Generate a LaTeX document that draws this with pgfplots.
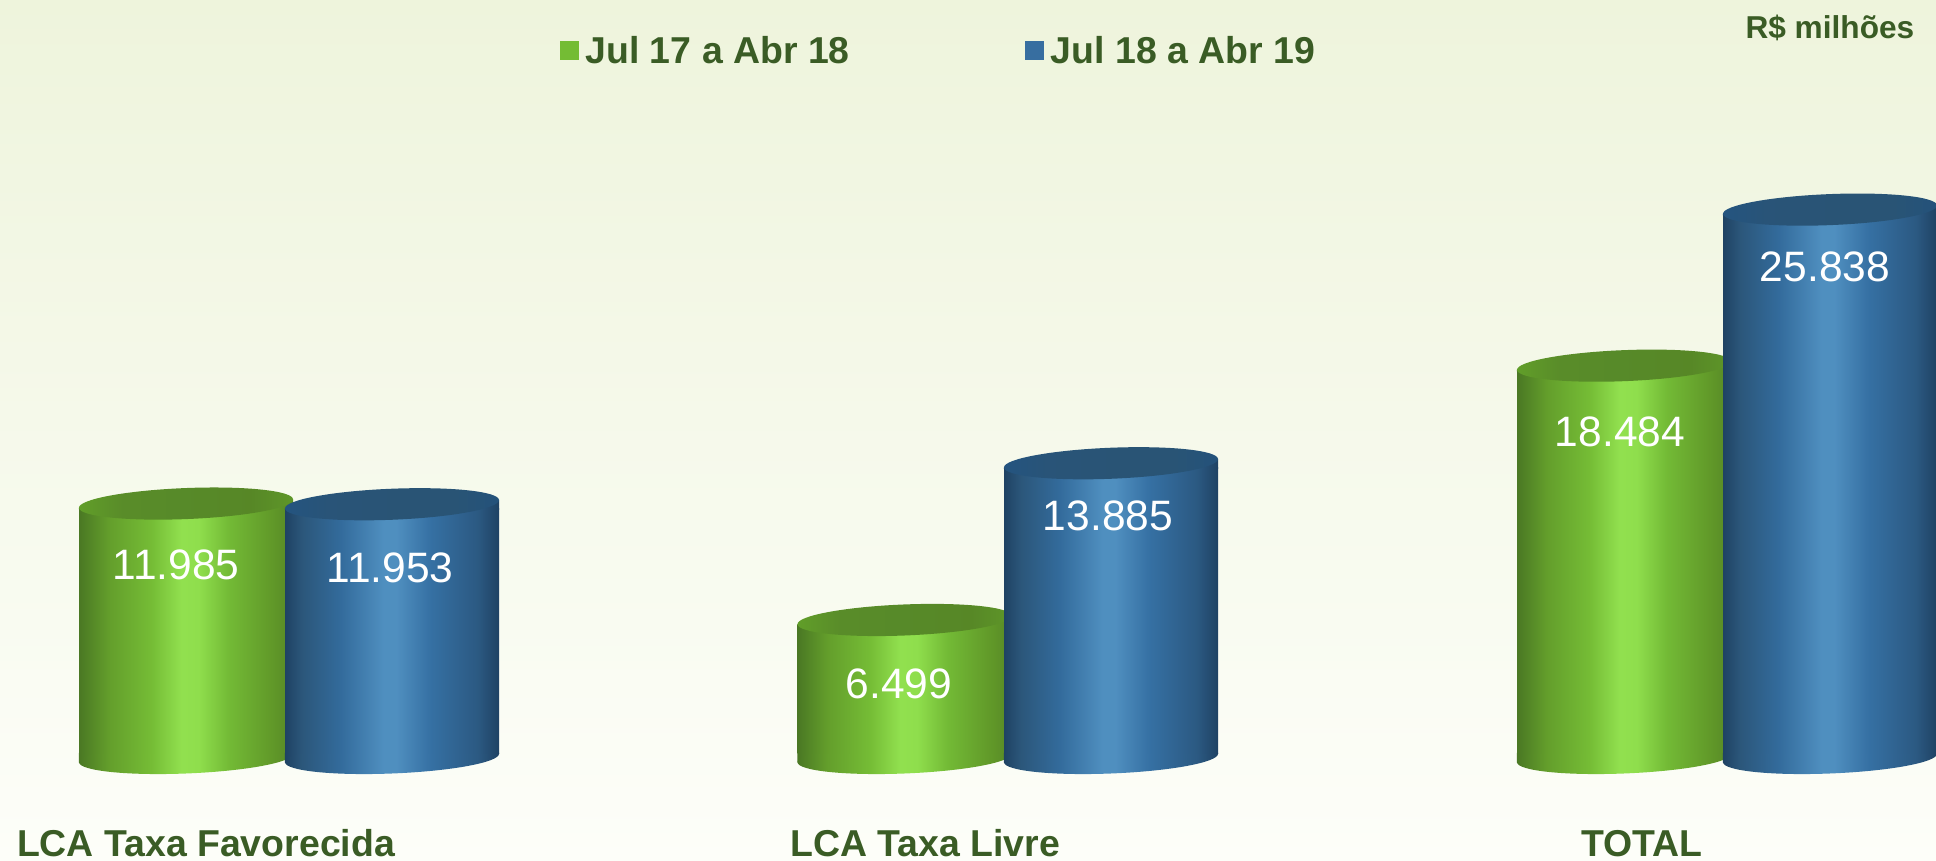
\documentclass[border=0pt]{standalone}
\usepackage{fontspec}
\setmainfont{Liberation Sans}
\usepackage{pgfplots}
\pgfplotsset{compat=1.18}
\usepackage{pgfplotstable}

\definecolor{txt}{HTML}{3A5C25}
\definecolor{bgtop}{HTML}{EEF4DC}
\definecolor{bgbot}{HTML}{FDFEF9}
\definecolor{legG}{HTML}{74BC34}
\definecolor{legB}{HTML}{376EA0}

% body and lid shadings, visible part is 25bp..75bp
\pgfdeclarehorizontalshading{bodyG}{100bp}{
 rgb(0bp)=(0.29,0.47,0.14); rgb(25bp)=(0.29,0.47,0.14); rgb(32bp)=(0.39,0.62,0.17);
 rgb(42bp)=(0.46,0.74,0.21); rgb(49bp)=(0.57,0.88,0.31); rgb(53bp)=(0.56,0.87,0.30);
 rgb(60bp)=(0.45,0.73,0.21); rgb(70bp)=(0.38,0.60,0.16); rgb(75bp)=(0.34,0.53,0.15); rgb(100bp)=(0.34,0.53,0.15)}
\pgfdeclarehorizontalshading{bodyB}{100bp}{
 rgb(0bp)=(0.12,0.26,0.39); rgb(25bp)=(0.12,0.26,0.39); rgb(29bp)=(0.17,0.34,0.48);
 rgb(38bp)=(0.20,0.42,0.61); rgb(48bp)=(0.31,0.56,0.75); rgb(51bp)=(0.31,0.56,0.75);
 rgb(59bp)=(0.21,0.44,0.64); rgb(70bp)=(0.17,0.35,0.51); rgb(75bp)=(0.12,0.26,0.39); rgb(100bp)=(0.12,0.26,0.39)}
\pgfdeclarehorizontalshading{lidG}{100bp}{
 rgb(0bp)=(0.38,0.62,0.16); rgb(25bp)=(0.38,0.62,0.16); rgb(35bp)=(0.35,0.55,0.16);
 rgb(50bp)=(0.34,0.54,0.16); rgb(65bp)=(0.34,0.53,0.15); rgb(75bp)=(0.37,0.59,0.16); rgb(100bp)=(0.37,0.59,0.16)}
\pgfdeclarehorizontalshading{lidB}{100bp}{
 rgb(0bp)=(0.14,0.33,0.50); rgb(25bp)=(0.14,0.33,0.50); rgb(35bp)=(0.16,0.33,0.47);
 rgb(50bp)=(0.16,0.33,0.46); rgb(65bp)=(0.16,0.33,0.46); rgb(75bp)=(0.14,0.32,0.48); rgb(100bp)=(0.14,0.32,0.48)}

% 1px = 0.28453pt; half width 107px, tilt 4.3px, half height 15.5px
\newcommand{\lidpath}{\pgfpathellipse{\pgfqpoint{0pt}{1.22pt}}{\pgfqpoint{30.45pt}{1.22pt}}{\pgfqpoint{-0.18pt}{4.41pt}}}
\newcommand{\footpath}{\pgfpathellipse{\pgfqpoint{0pt}{-1.14pt}}{\pgfqpoint{30.45pt}{1.22pt}}{\pgfqpoint{-0.18pt}{4.41pt}}}
\newcommand{\patchpath}{%
 \pgfpathmoveto{\pgfqpoint{-30.45pt}{0pt}}\pgfpathlineto{\pgfqpoint{30.45pt}{2.44pt}}%
 \pgfpathlineto{\pgfqpoint{30.45pt}{-0.4pt}}\pgfpathlineto{\pgfqpoint{-30.45pt}{-0.4pt}}\pgfpathclose}
% fills the wedge between the flat bar end and the tilted foot
\newcommand{\wedgepath}{%
 \pgfpathmoveto{\pgfqpoint{-30.45pt}{0.3pt}}\pgfpathlineto{\pgfqpoint{30.45pt}{0.3pt}}%
 \pgfpathlineto{\pgfqpoint{30.45pt}{0.08pt}}\pgfpathlineto{\pgfqpoint{-30.45pt}{-2.36pt}}\pgfpathclose}
\pgfdeclareplotmark{capG}{\patchpath\pgfshadepath{bodyG}{0}\pgfusepath{discard}\lidpath\pgfshadepath{lidG}{0}\pgfusepath{discard}}
\pgfdeclareplotmark{capB}{\patchpath\pgfshadepath{bodyB}{0}\pgfusepath{discard}\lidpath\pgfshadepath{lidB}{0}\pgfusepath{discard}}
\pgfdeclareplotmark{footG}{\wedgepath\pgfshadepath{bodyG}{0}\pgfusepath{discard}\footpath\pgfshadepath{bodyG}{0}\pgfusepath{discard}}
\pgfdeclareplotmark{footB}{\wedgepath\pgfshadepath{bodyB}{0}\pgfusepath{discard}\footpath\pgfshadepath{bodyB}{0}\pgfusepath{discard}}

% base = bottom of the axis, where the foot ellipse hangs from
\pgfplotstableread{
x y base dx dy
186 11985 387 -10 57
904.5 6499 387 -5.5 60
1624 18484 387 -4 62
}\greendata
\pgfplotstableread{
x y base dx dy
392 11953 387 -2 59
1111 13885 387 -3 48
1830 25838 387 -5 53
}\bluedata

\pgfplotsset{
 row0/.style={skip coords between index={1}{3}},
 row1/.style={skip coords between index={0}{1}, skip coords between index={2}{3}},
 row2/.style={skip coords between index={0}{2}},
}
% one bar per call, so that each gets its own shading box
\newcommand{\cyl}[3]{%
 \addplot[only marks, forget plot, mark=foot#2, #3] table[x=x, y=base] {#1};
 \addplot[forget plot, ybar, bar width=214, /pgf/bar shift=0pt, draw=none, shade, shading=body#2, #3,
  visualization depends on={\thisrow{dx}\as\dx},
  visualization depends on={\thisrow{dy}\as\dy},
  nodes near coords,
  nodes near coords style={anchor=center, text=white, font=\fontsize{12.1}{14}\selectfont,
   xshift=\dx*0.28453pt, yshift=-\dy*0.28453pt,
   /pgf/number format/.cd, 1000 sep={.}, assume math mode=true}]
  table[x=x, y=y] {#1};
 \addplot[only marks, forget plot, mark=cap#2, #3] table[x=x, y=y] {#1};
}

\begin{document}
\begin{tikzpicture}
\useasboundingbox (0,0) rectangle (19.36,8.61);
\shade[top color=bgtop, bottom color=bgbot] (0,0) rectangle (19.36,8.61);
\begin{axis}[
 at={(0,1.07cm)}, anchor=south west,
 scale only axis, width=19.36cm, height=7.54cm,
 xmin=0, xmax=1936, ymin=386, ymax=35919,
 clip mode=individual,
 axis line style={draw=none},
 major tick length=0pt,
 ytick=\empty,
 xtick={206,925,1642},
 xticklabels={LCA Taxa Favorecida,LCA Taxa Livre,TOTAL},
 xticklabel style={anchor=base, yshift=-29.3pt, text=txt,
  font=\fontsize{10.65}{12}\selectfont\bfseries},
 legend columns=2,
 legend style={at={(0.289,0.9304)}, anchor=west, draw=none, fill=none, inner sep=0pt, outer sep=0pt,
  font=\fontsize{10.65}{12}\selectfont\bfseries, text=txt,
  /tikz/every even column/.append style={column sep=1.68cm}},
 legend image code/.code={\fill[#1] (0cm,-0.075cm) rectangle (0.19cm,0.115cm);},
]
\addlegendimage{fill=legG, draw=none}
\addlegendentry{Jul 17 a Abr 18}
\addlegendimage{fill=legB, draw=none}
\addlegendentry{Jul 18 a Abr 19}
\cyl{\greendata}{G}{row0}
\cyl{\greendata}{G}{row1}
\cyl{\greendata}{G}{row2}
\cyl{\bluedata}{B}{row0}
\cyl{\bluedata}{B}{row1}
\cyl{\bluedata}{B}{row2}
\end{axis}
\node[anchor=base east, text=txt, inner sep=0pt, font=\fontsize{9}{11}\selectfont\bfseries] at (19.15,8.22) {R\$ milhões};
\end{tikzpicture}
\end{document}
